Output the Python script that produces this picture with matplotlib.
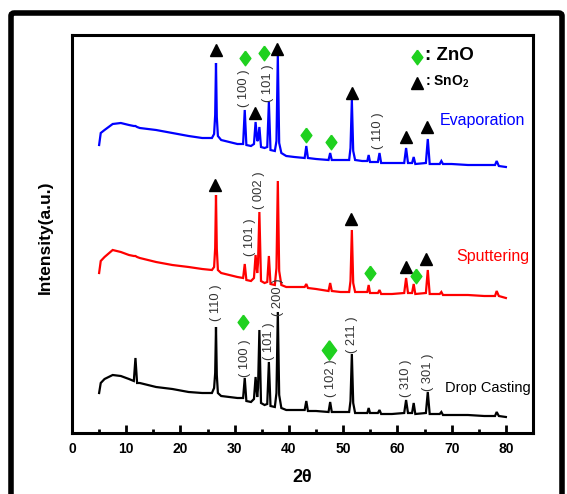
import matplotlib
matplotlib.use("Agg")
import matplotlib.pyplot as plt
from matplotlib.patches import FancyBboxPatch
from matplotlib.ticker import MultipleLocator

plt.rcParams['font.family'] = ['Liberation Sans', 'DejaVu Sans']
plt.rcParams['mathtext.fontset'] = 'custom'
plt.rcParams['mathtext.bf'] = 'Liberation Sans:bold'
plt.rcParams['mathtext.rm'] = 'Liberation Sans'

# ---- data (2-theta grid and intensities, arbitrary units) ----
two_theta = [5.0, 5.3, 6.0, 7.5, 9.0, 10.5, 11.4, 11.7, 12.0, 12.5, 15.5, 18.5, 21.5, 24.0,
             25.8, 26.2, 26.4, 26.55, 26.7, 26.9, 27.5, 29.0, 30.5, 31.55, 31.85, 32.15,
             33.0, 33.55, 33.85, 34.15, 34.3, 34.55, 34.85, 35.5, 36.0, 36.3, 36.6, 37.4,
             37.7, 37.95, 38.2, 38.6, 39.5, 41.0, 42.9, 43.2, 43.5, 45.0, 47.3, 47.6, 47.9,
             49.5, 51.1, 51.35, 51.6, 51.85, 52.2, 53.5, 54.45, 54.7, 54.95, 56.4, 56.7,
             57.0, 59.0, 61.25, 61.6, 61.95, 62.7, 63.0, 63.3, 65.25, 65.6, 65.95, 67.8,
             68.1, 68.4, 70.0, 73.0, 76.0, 78.0, 78.3, 78.7, 80.0]

evaporation = [288, 300, 303, 309, 310, 308, 307, 307, 306, 305, 303, 300, 297, 295,
               295, 299, 318, 370, 316, 297, 293, 291, 289, 289, 323, 288,
               287, 289, 311, 292, 293, 306, 286, 285, 286, 331, 283, 282,
               292, 378, 290, 280, 277, 276, 275, 287, 275, 274, 273, 280, 273,
               273, 273, 285, 333, 282, 273, 272, 272, 278, 271, 271, 280,
               270, 270, 270, 285, 270, 270, 276, 269, 270, 294, 269, 269,
               272, 269, 269, 268, 268, 268, 272, 267, 266]

sputtering = [160, 172, 176, 183, 181, 178, 177, 177, 176, 175, 171, 168, 166, 164,
              163, 166, 185, 238, 184, 163, 160, 158, 156, 155, 169, 153,
              152, 155, 178, 160, 170, 221, 152, 150, 151, 177, 149, 148,
              165, 252, 162, 148, 146, 146, 146, 149, 145, 144, 142, 150, 142,
              141, 141, 152, 203, 150, 141, 141, 141, 148, 140, 140, 143,
              139, 139, 140, 155, 140, 140, 149, 139, 140, 163, 139, 139,
              141, 138, 138, 138, 137, 137, 142, 137, 135]

drop_casting = [40, 50, 54, 58, 57, 54, 52, 75, 50, 50, 46, 44, 41, 40,
                40, 45, 60, 106, 58, 40, 37, 36, 35, 35, 55, 32,
                31, 34, 56, 36, 45, 103, 30, 28, 29, 71, 27, 26,
                40, 121, 38, 25, 23, 23, 23, 32, 22, 22, 21, 31, 21,
                21, 21, 32, 79, 30, 20, 20, 20, 25, 20, 20, 23,
                19, 19, 20, 33, 20, 20, 30, 19, 20, 41, 19, 19,
                21, 18, 18, 18, 17, 17, 21, 17, 16]

# SnO2 (triangle) and ZnO (diamond) markers: x, y
sno2_x = [26.5, 37.8, 33.8, 51.6, 61.5, 65.4, 26.3, 51.5, 61.5, 65.3]
sno2_y = [383, 384, 320, 340, 296, 306, 248, 214, 166, 174]
zno_x = [31.9, 35.4, 43.2, 47.8, 54.9, 63.4, 31.5]
zno_y = [375, 380, 298, 291, 160, 157, 111]
zno_big_x = [47.4]
zno_big_y = [83]

# Miller-index labels: x, y, text
hkl_x = [31.7, 36.1, 56.5, 32.9, 34.4, 26.5, 31.9, 36.3, 37.9, 47.8, 51.7, 61.6, 65.6]
hkl_y = [345, 350, 302, 196, 243, 130, 75, 92, 136, 55, 98, 55, 61]
hkl_text = ["(100)", "(101)", "(110)", "(101)", "(002)", "(110)", "(100)", "(101)",
            "(200)", "(102)", "(211)", "(310)", "(301)"]

series_names = ["Evaporation", "Sputtering", "Drop Casting"]
series_label_x = [67.8, 70.9, 68.7]
series_label_y = [313, 176, 45]
series_colors = ["#0000ff", "#ff0000", "#000000"]

xticks = [0, 10, 20, 30, 40, 50, 60, 70, 80]

# ---- figure ----
W, H = 567, 494
fig = plt.figure(figsize=(W / 100, H / 100), dpi=100)
ax = fig.add_axes([72 / W, 1 - 433 / H, (533 - 72) / W, (433 - 35) / H])

for yv, c in zip([evaporation, sputtering, drop_casting], series_colors):
    ax.plot(two_theta, yv, color=c, lw=1.6, solid_joinstyle='miter')

diamond = [(0, 1), (0.74, 0), (0, -1), (-0.74, 0), (0, 1)]
green = '#1fd11f'
ax.plot(sno2_x, sno2_y, linestyle='none', marker='^', color='black', ms=8.7)
ax.plot(zno_x, zno_y, linestyle='none', marker=diamond, color=green, mec=green, ms=10.5)
ax.plot(zno_big_x, zno_big_y, linestyle='none', marker=diamond, color=green, mec=green,
        ms=14)

for x, y, t in zip(hkl_x, hkl_y, hkl_text):
    ax.text(x, y, t.replace("(", "( ").replace(")", " )"), rotation=90, ha='center',
            va='center', fontsize=9.3, color='#333333')

for name, x, y, c in zip(series_names, series_label_x, series_label_y, series_colors):
    ax.text(x, y, name, color=c, ha='left', va='center',
            fontsize=11.5 if c != '#000000' else 10.5)

# legend
ax.plot([63.7], [376], linestyle='none', marker=diamond, color=green, mec=green, ms=10.5)
ax.plot([63.7], [350], linestyle='none', marker='^', color='black', ms=8.7)
ax.text(65.0, 377, ": ZnO", fontsize=13.5, fontweight='bold', ha='left', va='center')
ax.text(65.0, 351, r": SnO$\mathbf{_2}$", fontsize=10, fontweight='bold', ha='left',
        va='center')

ax.set_xlim(0, 85)
ax.set_ylim(0, 398)
ax.set_xticks(xticks)
ax.xaxis.set_minor_locator(MultipleLocator(5))
ax.set_yticks([])
ax.tick_params(axis='x', which='major', direction='in', length=6, width=2, pad=6.5,
               labelsize=10)
ax.tick_params(axis='x', which='minor', direction='in', length=3, width=2)
for lab in ax.get_xticklabels():
    lab.set_fontweight('bold')
for s in ax.spines.values():
    s.set_linewidth(2.2)

fig.text(302 / W, 1 - 477 / H, "2θ", fontsize=13, fontweight='bold', ha='center',
         va='center')
fig.text(45.5 / W, 1 - 237 / H, "Intensity(a.u.)", fontsize=12.5, fontweight='bold',
         rotation=90, ha='center', va='center')

# outer frame
frame = FancyBboxPatch((11 / W, -0.05), (562 - 11) / W, (H - 13) / H + 0.05,
                       boxstyle="round,pad=0,rounding_size=0.006",
                       transform=fig.transFigure, fill=False, lw=4, ec='black',
                       clip_on=False)
fig.patches.append(frame)

fig.savefig("out.png", dpi=100)
